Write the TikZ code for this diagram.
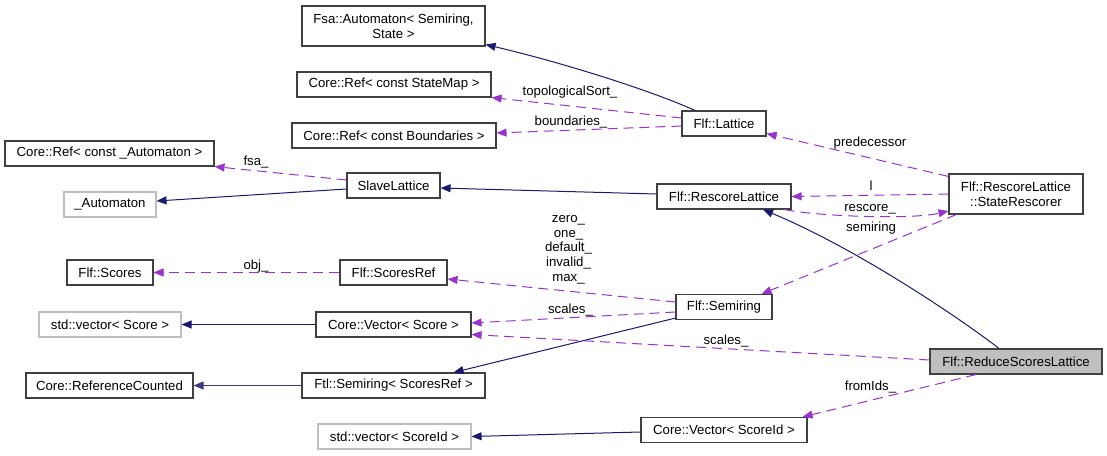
\documentclass[tikz,border=0pt]{standalone}
\usepackage{fontspec}
\setmainfont{Liberation Sans}
\usetikzlibrary{arrows.meta}
\definecolor{edgeblue}{HTML}{191970}
\definecolor{edgepurple}{HTML}{9A32CD}
\definecolor{boxgray}{HTML}{BFBFBF}
\definecolor{boxline}{HTML}{404040}

\begin{document}
\begin{tikzpicture}[x=1pt, y=-1pt,
  every node/.style={font=\fontsize{13.2}{14.6}\selectfont},
  box/.style={draw=boxline, line width=1.1pt, minimum height=25pt, inner sep=0pt, align=center},
  extbox/.style={box, draw=boxgray},
  inh/.style={edgeblue, line width=1pt, -{Triangle[length=10pt,width=8pt]}},
  use/.style={edgepurple, line width=1pt, dash pattern=on 10pt off 6pt, -{Triangle[length=10pt,width=8pt]}},
  lbl/.style={inner sep=0pt, anchor=base, align=center}]
\useasboundingbox (0,0) rectangle (1107,455);

\node[box, minimum width=183pt, minimum height=40pt] (fsa) at (393.5,26) {Fsa::Automaton< Semiring,\\State >};
\node[box, minimum width=194pt] (statemap) at (394,84.5) {Core::Ref< const StateMap >};
\node[box, minimum width=204pt] (boundaries) at (394,135.5) {Core::Ref< const Boundaries >};
\node[box, minimum width=209pt] (refauto) at (109.5,153.5) {Core::Ref< const \_Automaton >};
\node[box, minimum width=93pt] (slave) at (393.5,185.5) {SlaveLattice};
\node[extbox, minimum width=92pt] (automaton) at (110,204.5) {\_Automaton};
\node[box, minimum width=84pt] (lattice) at (724,123.5) {Flf::Lattice};
\node[box, minimum width=134pt] (rescore) at (724,196.5) {Flf::RescoreLattice};
\node[box, minimum width=134pt, minimum height=40pt] (rescorer) at (1016,194) {Flf::RescoreLattice\\::StateRescorer};
\node[box, minimum width=86pt] (scores) at (110,272.5) {Flf::Scores};
\node[box, minimum width=107pt] (scoresref) at (393.5,272.5) {Flf::ScoresRef};
\node[extbox, minimum width=142pt] (stdvecscore) at (110,324.5) {std::vector< Score >};
\node[box, minimum width=155pt] (vecscore) at (393.5,324.5) {Core::Vector< Score >};
\node[box, minimum width=96pt] (semiring) at (724,307) {Flf::Semiring};
\node[box, minimum width=167pt] (refcounted) at (109.5,385.5) {Core::ReferenceCounted};
\node[box, minimum width=183pt] (ftlsemiring) at (393.5,385.5) {Ftl::Semiring< ScoresRef >};
\node[box, fill=boxgray, minimum width=172pt] (reduce) at (1016,361.5) {Flf::ReduceScoresLattice};
\node[extbox, minimum width=153pt] (stdvecid) at (394.5,436.5) {std::vector< ScoreId >};
\node[box, minimum width=166pt] (vecid) at (724,430) {Core::Vector< ScoreId >};

\draw[inh] ([xshift=-29pt]lattice.north) .. controls (650,90) and (560,62) .. ([yshift=2pt]fsa.south east);
\draw[inh] ([yshift=2.5pt]rescore.west) -- ([yshift=-2.5pt]slave.east);
\draw[inh] ([yshift=-3.5pt]slave.west) -- ([yshift=3.5pt]automaton.east);
\draw[inh] ([xshift=-17pt]reduce.north) .. controls (965,322) and (860,250) .. ([xshift=39pt]rescore.south);
\draw[inh] ([yshift=2pt]semiring.south west) -- ([xshift=-32pt]ftlsemiring.north east);
\draw[inh] (vecscore.west) -- (stdvecscore.east);
\draw[inh, edgeblue!85, line width=1.4pt] (ftlsemiring.west) -- (refcounted.east);
\draw[inh] ([yshift=-2pt]vecid.west) -- (stdvecid.east);

\draw[use] ([yshift=5.5pt]lattice.west) -- (statemap.south east);
\draw[use] ([yshift=-2.5pt]lattice.west) -- ([yshift=2.5pt]boundaries.east);
\draw[use] ([yshift=5.5pt]slave.west) -- (refauto.south east);
\draw[use] ([yshift=-3pt]rescorer.north west) -- ([yshift=3pt]lattice.south east);
\draw[use] (rescorer.west) -- (rescore.east);
\draw[use] ([xshift=-7pt]rescore.south east) .. controls (815,216) and (910,220) .. ([yshift=-17pt]rescorer.west);
\draw[use] ([xshift=8pt]rescorer.south west) -- ([xshift=-11pt]semiring.north east);
\draw[use] ([yshift=5pt]semiring.west) -- ([yshift=-6.5pt]scoresref.east);
\draw[use] ([yshift=-5pt]semiring.west) -- ([yshift=1.5pt]vecscore.east);
\draw[use] ([yshift=1.5pt]reduce.west) -- ([yshift=3pt]vecscore.south east);
\draw[use] ([xshift=-40pt]reduce.south) -- ([xshift=-5pt]vecid.north east);
\draw[use] (scoresref.west) -- (scores.east);

\node[lbl] (ltopo) at (570,95) {topologicalSort\_};
\node[lbl] (lbound) at (571,125.5) {boundaries\_};
\node[lbl] (lfsa) at (256,165) {fsa\_};
\node[lbl] (lpred) at (870,146) {predecessor};
\node[lbl] (ll) at (871,190) {l};
\node[lbl] (lrescore) at (870,211) {rescore\_};
\node[lbl] (lsemiring) at (871,231) {semiring};
\node[lbl] (lconst) at (568.5,281) {zero\_\\one\_\\default\_\\invalid\_\\max\_};
\node[lbl] (lscales) at (570.5,313) {scales\_};
\node[lbl] (lscalesr) at (726,344) {scales\_};
\node[lbl] (lfrom) at (870.5,390.5) {fromIds\_};
\node[lbl] (lobj) at (256,269) {obj\_};
\end{tikzpicture}
\end{document}
